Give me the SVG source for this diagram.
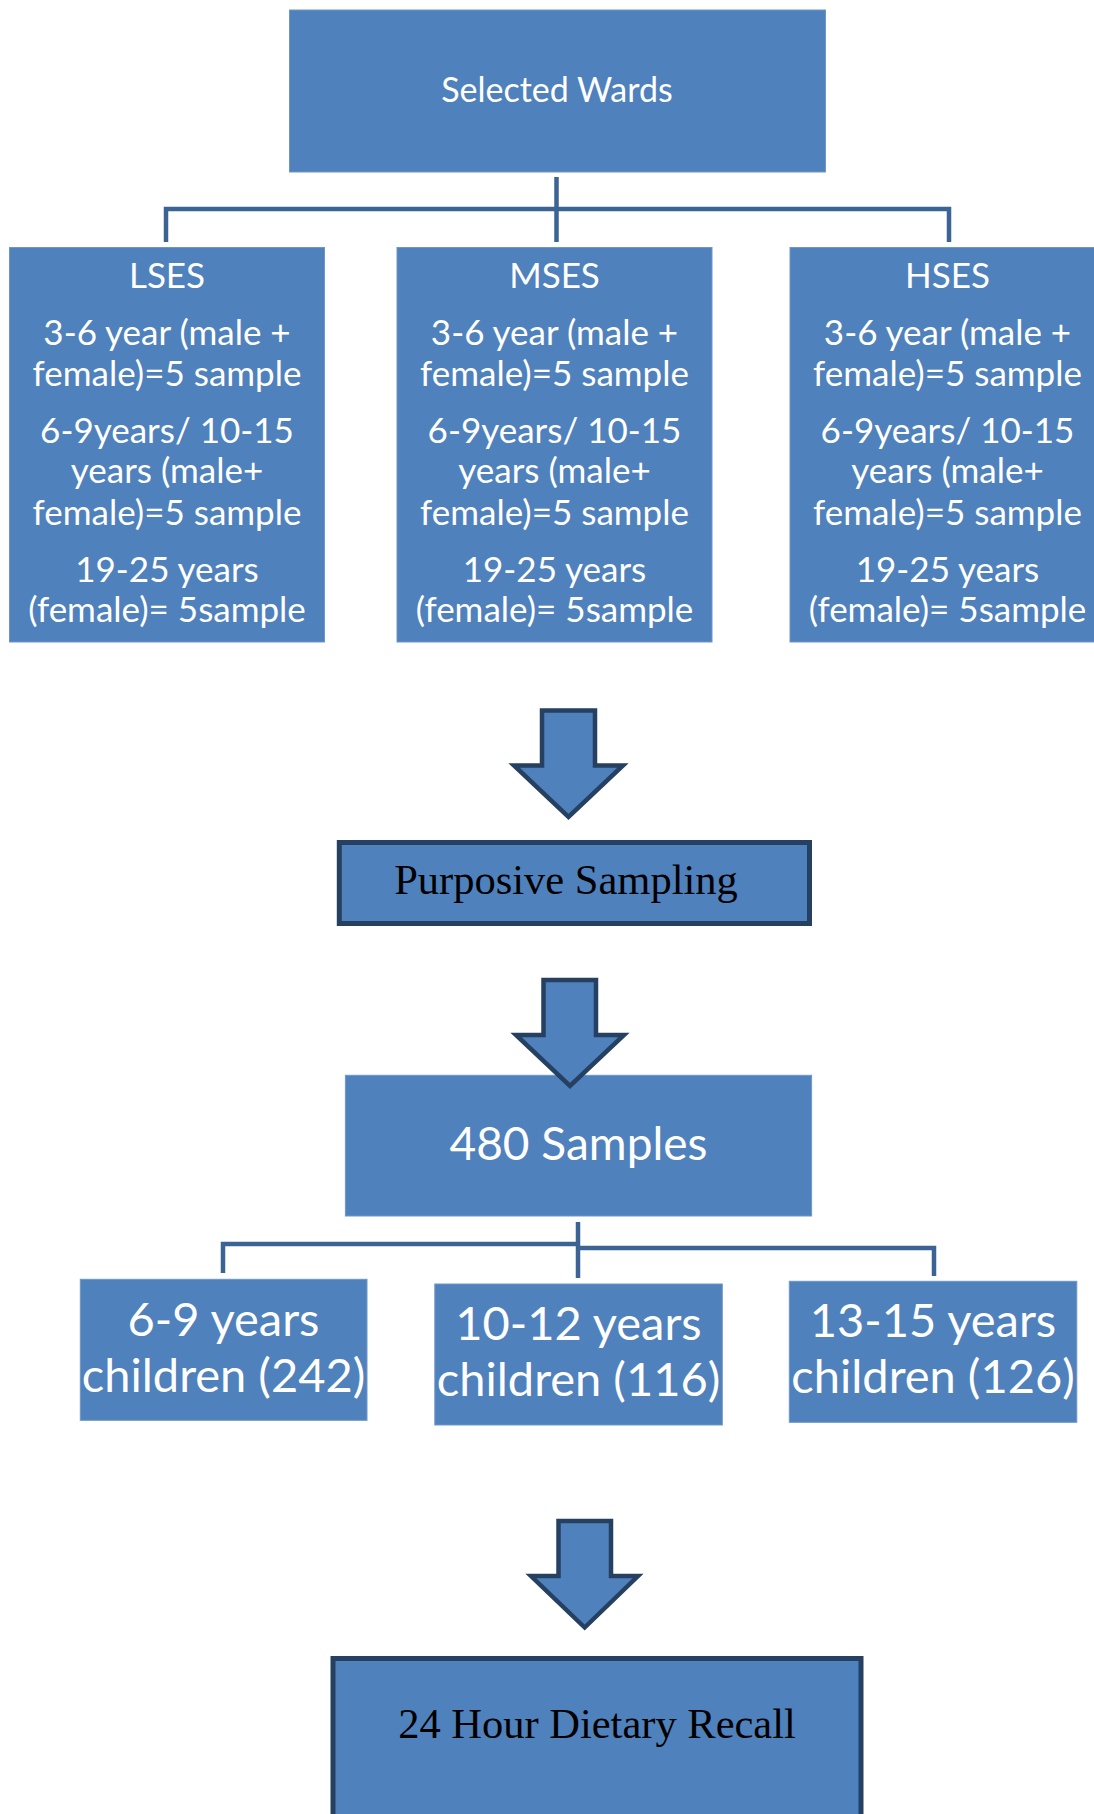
<svg xmlns="http://www.w3.org/2000/svg" width="1094" height="1814" viewBox="0 0 1094 1814">
<style>
.box{fill:#4f81bd;stroke:#6e96c8;stroke-width:1}
.sbox{fill:#4f81bd;stroke:#254061;stroke-width:5}
.arrow{fill:#4f81bd;stroke:#254061;stroke-width:4.5;stroke-linejoin:miter}
.conn{fill:none;stroke:#3b6494;stroke-width:4.5}
.w{fill:#fff;font-family:Lato,"Open Sans",sans-serif;text-anchor:middle}
.t{font-size:34px}
.s{font-size:35px}
.b{font-size:46px}
.c{font-size:47px}
.serif{fill:#000;font-family:"Liberation Serif","Times New Roman",serif;font-size:42.5px;text-anchor:middle}
</style>
<rect width="1094" height="1814" fill="#fff"/>
<g id="connectors">
  <path class="conn" d="M556.5,177 V209 M166,242 V209 H949 V242 M556.5,209 V242"/>
  <path class="conn" d="M578,1222 V1278 M223,1273 V1244 H578 M578,1248 H934 V1276"/>
</g>
<g id="selected-wards">
  <rect class="box" x="289.5" y="10" width="536" height="162"/>
  <text class="w t" x="557" y="102">Selected Wards</text>
</g>
<g id="lses">
  <rect class="box" x="9.5" y="247.5" width="315" height="394.5"/>
  <text class="w s" x="167" y="288">LSES</text>
  <text class="w s" x="167" y="345">3-6 year (male +</text>
  <text class="w s" x="167" y="385.5">female)=5 sample</text>
  <text class="w s" x="167" y="442.5">6-9years/ 10-15</text>
  <text class="w s" x="167" y="482.5">years (male+</text>
  <text class="w s" x="167" y="524.5">female)=5 sample</text>
  <text class="w s" x="167" y="582">19-25 years</text>
  <text class="w s" x="167" y="622">(female)= 5sample</text>
</g>
<g id="mses">
  <rect class="box" x="397" y="247.5" width="315" height="394.5"/>
  <text class="w s" x="554.5" y="288">MSES</text>
  <text class="w s" x="554.5" y="345">3-6 year (male +</text>
  <text class="w s" x="554.5" y="385.5">female)=5 sample</text>
  <text class="w s" x="554.5" y="442.5">6-9years/ 10-15</text>
  <text class="w s" x="554.5" y="482.5">years (male+</text>
  <text class="w s" x="554.5" y="524.5">female)=5 sample</text>
  <text class="w s" x="554.5" y="582">19-25 years</text>
  <text class="w s" x="554.5" y="622">(female)= 5sample</text>
</g>
<g id="hses">
  <rect class="box" x="790" y="247.5" width="320" height="394.5"/>
  <text class="w s" x="947.5" y="288">HSES</text>
  <text class="w s" x="947.5" y="345">3-6 year (male +</text>
  <text class="w s" x="947.5" y="385.5">female)=5 sample</text>
  <text class="w s" x="947.5" y="442.5">6-9years/ 10-15</text>
  <text class="w s" x="947.5" y="482.5">years (male+</text>
  <text class="w s" x="947.5" y="524.5">female)=5 sample</text>
  <text class="w s" x="947.5" y="582">19-25 years</text>
  <text class="w s" x="947.5" y="622">(female)= 5sample</text>
</g>
<g id="purposive-sampling">
  <rect class="sbox" x="339.3" y="842.5" width="470.2" height="81"/>
  <text class="serif" x="566" y="894">Purposive Sampling</text>
</g>
<g id="samples-480">
  <rect class="box" x="345.4" y="1075.3" width="466.2" height="140.7"/>
  <text class="w b" x="578.5" y="1160">480 Samples</text>
</g>
<g id="age-6-9">
  <rect class="box" x="80.3" y="1279.3" width="286.7" height="141"/>
  <text class="w c" x="223.5" y="1336">6-9 years</text>
  <text class="w c" x="223.5" y="1391.7">children (242)</text>
</g>
<g id="age-10-12">
  <rect class="box" x="434.8" y="1284" width="287.5" height="141"/>
  <text class="w c" x="578.5" y="1340">10-12 years</text>
  <text class="w c" x="578.5" y="1396">children (116)</text>
</g>
<g id="age-13-15">
  <rect class="box" x="789.3" y="1281.3" width="287.5" height="141"/>
  <text class="w c" x="933" y="1337.3">13-15 years</text>
  <text class="w c" x="933" y="1392.7">children (126)</text>
</g>
<g id="dietary-recall">
  <rect class="sbox" x="333" y="1658.5" width="528" height="200"/>
  <text class="serif" x="597" y="1737.5">24 Hour Dietary Recall</text>
</g>
<g id="arrow-1">
  <polygon class="arrow" points="542,710.5 595,710.5 595,765.5 623,765.5 568.5,817 514,765.5 542,765.5"/>
</g>
<g id="arrow-2">
  <polygon class="arrow" points="543.5,980 596,980 596,1035 624,1035 570,1086 516,1035 543.5,1035"/>
</g>
<g id="arrow-3">
  <polygon class="arrow" points="558.5,1521 611,1521 611,1576 638,1576 584.7,1627.5 531,1576 558.5,1576"/>
</g>
</svg>
